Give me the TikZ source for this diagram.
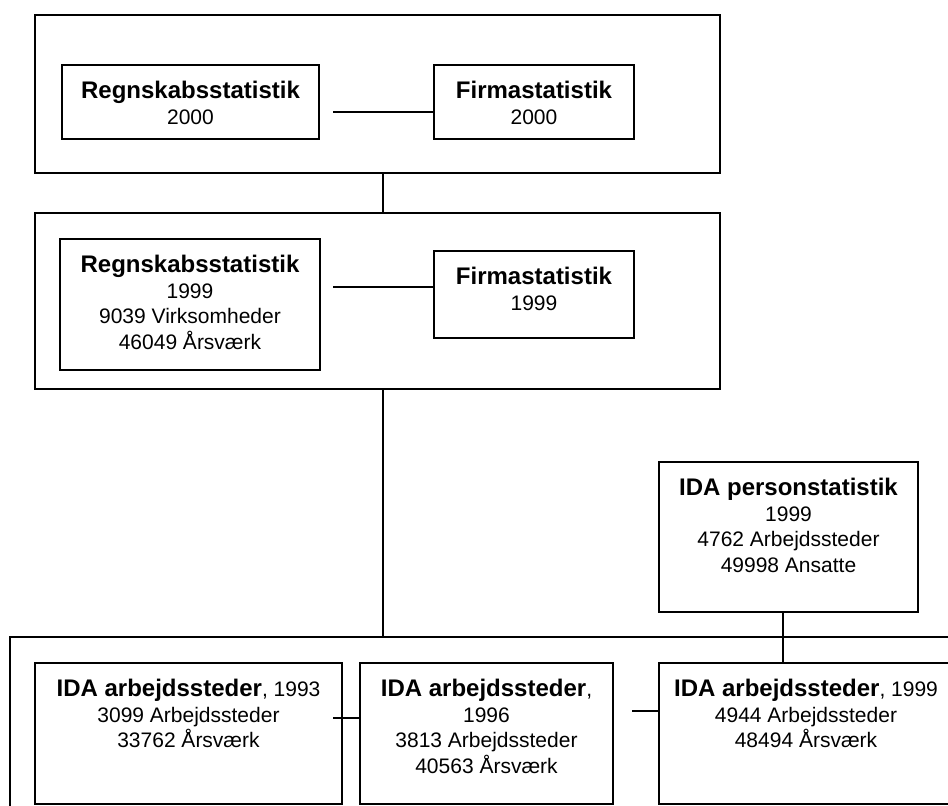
\documentclass[tikz,border=0pt]{standalone}
\usepackage{fontspec}
\setmainfont{Liberation Sans}
\usetikzlibrary{positioning}

\newdimen\unitpx \unitpx=0.5pt
\tikzstyle{frame}=[draw, line width=1pt, inner sep=0, anchor=north west]
\tikzstyle{statbox}=[draw, line width=1pt, inner sep=0, anchor=north west]
\tikzstyle{link}=[line width=1pt]
\newcommand{\hd}[1]{{\fontsize{12}{12.75}\selectfont\bfseries #1}}
\newcommand{\boxtext}[3]{\parbox[c][#2\unitpx][t]{#1\unitpx}{\centering
  \fontsize{10.5}{12.75}\selectfont\rule{0pt}{16.8pt}#3}}

\begin{document}
\begin{tikzpicture}[x=0.5pt, y=-0.5pt]
  \useasboundingbox (0,0) rectangle (948,805);
  \clip (0,0) rectangle (948,805);
  % outer frames
  \node[frame, minimum width=342.5pt, minimum height=79pt] (top) at (34,14) {};
  \node[frame, minimum width=342.5pt, minimum height=88pt] (mid) at (34,212) {};
  \node[frame, minimum width=480pt, minimum height=100pt] (low) at (9,636) {};
  % 2000
  \node[statbox] (rs00) at (61,64) {\boxtext{257}{74}{\hd{Regnskabsstatistik}\\2000}};
  \node[statbox] (fs00) at (433,64) {\boxtext{200}{74}{\hd{Firmastatistik}\\2000}};
  % 1999
  \node[statbox] (rs99) at (59,238) {\boxtext{260}{131}{\hd{Regnskabsstatistik}\\1999\\9039 Virksomheder\\46049 Årsværk}};
  \node[statbox] (fs99) at (433,250) {\boxtext{200}{87}{\hd{Firmastatistik}\\1999}};
  \node[statbox] (ip99) at (658,461) {\boxtext{259}{150}{\hd{IDA personstatistik}\\1999\\4762 Arbejdssteder\\49998 Ansatte}};
  % IDA arbejdssteder
  \node[statbox] (a93) at (34,662) {\boxtext{307}{141}{\hd{IDA arbejdssteder}, 1993\\3099 Arbejdssteder\\33762 Årsværk}};
  \node[statbox] (a96) at (359,662) {\boxtext{253}{141}{\hd{IDA arbejdssteder},\\1996\\3813 Arbejdssteder\\40563 Årsværk}};
  \node[statbox] (a99) at (658,662) {\boxtext{294}{141}{\hd{IDA arbejdssteder}, 1999\\4944 Arbejdssteder\\48494 Årsværk}};
  % connectors
  \coordinate (j1) at (333,112);
  \coordinate (j2) at (333,287);
  \coordinate (j3) at (333,718);
  \coordinate (j4) at (632,711);
  \coordinate (vx) at (383,0);
  \coordinate (vy) at (783,0);
  \draw[link] (j1) -- (j1 -| fs00.west);
  \draw[link] (j2) -- (j2 -| fs99.west);
  \draw[link] (j3) -- (j3 -| a96.west);
  \draw[link] (j4) -- (j4 -| a99.west);
  \draw[link] (top.south -| vx) -- (mid.north -| vx);
  \draw[link] (mid.south -| vx) -- (low.north -| vx);
  \draw[link] (ip99.south -| vy) -- (a99.north -| vy);
\end{tikzpicture}
\end{document}
